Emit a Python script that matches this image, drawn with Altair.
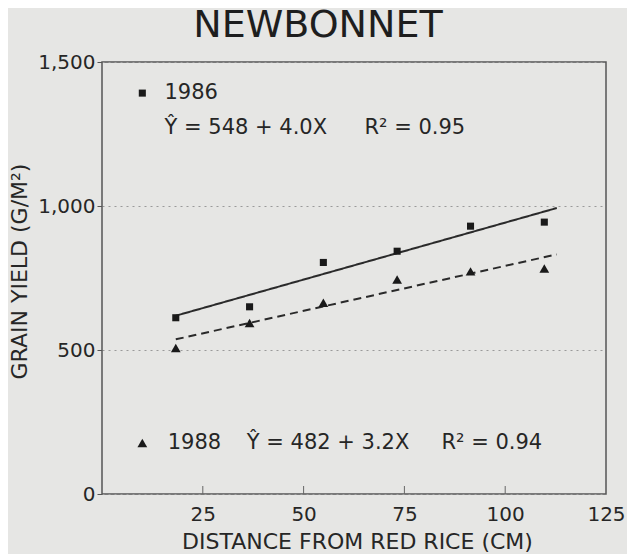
import altair as alt
import pandas as pd

# ---- data ----
distance = [18.3, 36.6, 54.9, 73.2, 91.4, 109.7]
yield_1986 = [612, 650, 804, 843, 930, 944]
yield_1988 = [507, 594, 664, 745, 773, 783]

fit_x = [18.3, 112.8]
fit_1986 = [619, 993]
fit_1988 = [537, 832]

x_ticks = [25, 50, 75, 100, 125]
y_ticks = [0, 500, 1000, 1500]
inner_ticks = [25, 50, 75, 100]

# annotation texts (legend / equations)
ann_text = ["1986", "Ŷ = 548 + 4.0X", "R² = 0.95", "1988", "Ŷ = 482 + 3.2X", "R² = 0.94"]
ann_x = [15.5, 15.5, 65.1, 16.3, 35.9, 84.2]
ann_y = [1392, 1271, 1271, 177, 177, 177]
sym_x = [10, 10]
sym_y = [1392, 177]
sym_year = ["1986", "1988"]

FONT = "DejaVu Sans"
INK = "#262626"

pts = pd.DataFrame({
    "x": distance * 2,
    "y": yield_1986 + yield_1988,
    "year": ["1986"] * len(distance) + ["1988"] * len(distance),
})
fits = pd.DataFrame({
    "x": fit_x * 2,
    "y": fit_1986 + fit_1988,
    "year": ["1986"] * 2 + ["1988"] * 2,
})
ann = pd.DataFrame({"x": ann_x, "y": ann_y, "t": ann_text})
sym = pd.DataFrame({"x": sym_x, "y": sym_y, "year": sym_year})
ticks = pd.DataFrame({"x": inner_ticks})

xs = alt.Scale(domain=[0, 125], nice=False, zero=False)
ys = alt.Scale(domain=[0, 1500], nice=False)

x_axis = alt.Axis(
    values=x_ticks, ticks=False, domain=False, grid=False, labelFlush=False,
    labelFont=FONT, labelFontSize=20, labelColor=INK, labelPadding=10,
    title="DISTANCE FROM RED RICE (CM)", titleFont=FONT, titleFontSize=22,
    titleFontWeight="normal", titleColor=INK, titleX=255, titleY=54,
    titleBaseline="alphabetic", titleAnchor="middle",
)
y_axis = alt.Axis(
    values=y_ticks, format=",d", domain=False, ticks=True, tickSize=5,
    tickColor="#555", grid=True, gridColor="#9a9a9a", gridDash=[2, 4], gridWidth=1,
    labelFont=FONT, labelFontSize=20, labelColor=INK, labelPadding=2, labelFlush=False,
    title="GRAIN YIELD (G/M²)", titleFont=FONT, titleFontSize=22,
    titleFontWeight="normal", titleColor=INK, titleX=-83, titleY=209,
    titleAngle=270, titleBaseline="middle", titleAlign="center",
)

shape_scale = alt.Scale(domain=["1986", "1988"], range=["square", "triangle-up"])
size_scale = alt.Scale(domain=["1986", "1988"], range=[50, 95])
dash_scale = alt.Scale(domain=["1986", "1988"], range=[[1, 0], [8, 5]])

points = alt.Chart(pts).mark_point(filled=True, color="#1a1a1a", opacity=1).encode(
    x=alt.X("x:Q", scale=xs, axis=x_axis),
    y=alt.Y("y:Q", scale=ys, axis=y_axis),
    shape=alt.Shape("year:N", scale=shape_scale, legend=None),
    size=alt.Size("year:N", scale=size_scale, legend=None),
)

lines = alt.Chart(fits).mark_line(color="#2a2a2a", strokeWidth=2).encode(
    x=alt.X("x:Q", scale=xs),
    y=alt.Y("y:Q", scale=ys),
    detail="year:N",
    strokeDash=alt.StrokeDash("year:N", scale=dash_scale, legend=None),
)

inner = alt.Chart(ticks).mark_rule(color="#666", strokeWidth=1).encode(
    x=alt.X("x:Q", scale=xs),
    y=alt.value(432),
    y2=alt.value(424),
)

symbols = alt.Chart(sym).mark_point(filled=True, color="#1a1a1a", opacity=1).encode(
    x=alt.X("x:Q", scale=xs),
    y=alt.Y("y:Q", scale=ys),
    shape=alt.Shape("year:N", scale=shape_scale, legend=None),
    size=alt.Size("year:N", scale=size_scale, legend=None),
)

texts = alt.Chart(ann).mark_text(
    align="left", baseline="middle", font=FONT, fontSize=21, color=INK
).encode(
    x=alt.X("x:Q", scale=xs),
    y=alt.Y("y:Q", scale=ys),
    text="t:N",
)

chart = alt.layer(inner, lines, points, symbols, texts).properties(
    width=504,
    height=432,
    autosize=alt.AutoSizeParams(type="none"),
    padding={"left": 94, "top": 54, "right": 21, "bottom": 64},
    background="#e6e6e4",
    title=alt.TitleParams(
        "NEWBONNET", font=FONT, fontSize=38, fontWeight="normal", color="#1e1e1e",
        anchor="middle", dx=-36, offset=7,
    ),
).configure_view(stroke="#555555", strokeWidth=1.5)

chart.save("out.html", embed_options={"renderer": "svg", "actions": False})
